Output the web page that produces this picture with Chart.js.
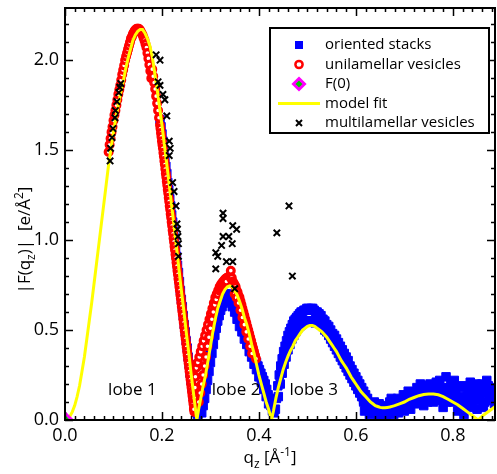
<!DOCTYPE html>
<html>
<head>
<meta charset="utf-8">
<script src="https://cdn.jsdelivr.net/npm/chart.js@4.4.1/dist/chart.umd.min.js"></script>
<style>
html, body { margin: 0; padding: 0; background: #fff; }
</style>
</head>
<body>
<canvas id="myChart" width="497" height="474"></canvas>
<script>
// model fit |F(qz)|
var fitPoints = [
  [0,0],[0.005,0.005],[0.01,0.02],[0.015,0.045],[0.02,0.08],[0.025,0.13],[0.03,0.19],[0.035,0.27],[0.04,0.35],[0.045,0.45],
  [0.05,0.55],[0.055,0.65],[0.06,0.76],[0.065,0.87],[0.07,0.98],[0.075,1.09],[0.08,1.20],[0.085,1.31],[0.09,1.42],[0.095,1.51],
  [0.10,1.60],[0.105,1.68],[0.11,1.75],[0.115,1.82],[0.12,1.88],[0.125,1.95],[0.13,2.01],[0.135,2.06],[0.14,2.11],[0.145,2.14],
  [0.15,2.16],[0.155,2.17],[0.16,2.17],[0.165,2.15],[0.17,2.12],[0.175,2.08],[0.18,2.02],[0.185,1.93],[0.19,1.84],[0.195,1.74],
  [0.20,1.64],[0.205,1.53],[0.21,1.42],[0.215,1.31],[0.22,1.19],[0.225,1.08],[0.23,0.96],[0.235,0.84],[0.24,0.72],[0.245,0.61],
  [0.25,0.49],[0.255,0.38],[0.26,0.26],[0.265,0.15],[0.27,0.04],[0.272,0.0],
  [0.275,0.05],[0.28,0.12],[0.285,0.19],[0.29,0.25],[0.295,0.33],[0.30,0.41],[0.305,0.49],[0.31,0.56],[0.315,0.62],[0.32,0.66],
  [0.325,0.70],[0.33,0.725],[0.335,0.74],[0.34,0.745],[0.345,0.74],[0.35,0.72],[0.355,0.695],[0.36,0.66],[0.365,0.62],[0.37,0.57],
  [0.375,0.53],[0.38,0.48],[0.385,0.42],[0.39,0.37],[0.395,0.31],[0.40,0.25],[0.405,0.20],[0.41,0.15],[0.415,0.10],[0.42,0.06],[0.426,0.0],
  [0.43,0.05],[0.435,0.12],[0.44,0.18],[0.445,0.23],[0.45,0.28],[0.455,0.32],[0.46,0.355],[0.465,0.385],[0.47,0.41],[0.475,0.44],
  [0.48,0.46],[0.485,0.48],[0.49,0.50],[0.495,0.51],[0.50,0.52],[0.505,0.525],[0.51,0.525],[0.515,0.52],[0.52,0.51],[0.525,0.50],
  [0.53,0.49],[0.535,0.475],[0.54,0.46],[0.545,0.44],[0.55,0.42],[0.555,0.40],[0.56,0.38],[0.565,0.355],[0.57,0.33],[0.575,0.31],
  [0.58,0.29],[0.585,0.265],[0.59,0.24],[0.595,0.22],[0.60,0.20],[0.605,0.18],[0.61,0.16],[0.615,0.145],[0.62,0.13],[0.625,0.115],
  [0.63,0.10],[0.635,0.09],[0.64,0.08],[0.645,0.075],[0.65,0.07],[0.655,0.068],[0.66,0.068],[0.665,0.07],[0.67,0.072],[0.675,0.076],
  [0.68,0.08],[0.69,0.09],[0.70,0.10],[0.71,0.115],[0.72,0.125],[0.73,0.135],[0.74,0.142],[0.75,0.145],[0.76,0.145],[0.77,0.14],
  [0.78,0.13],[0.79,0.115],[0.80,0.10],[0.81,0.085],[0.82,0.065],[0.83,0.045],[0.84,0.025],[0.852,0.0],[0.86,0.02],[0.87,0.04],
  [0.88,0.06],[0.89,0.08]
];

var orientedStacks = [
  // lobe 1, falling edge
  [0.196,1.67],[0.198,1.63],[0.200,1.59],[0.202,1.55],[0.204,1.50],[0.206,1.46],[0.208,1.41],[0.210,1.37],[0.212,1.32],[0.214,1.28],
  [0.216,1.23],[0.218,1.19],[0.220,1.14],[0.222,1.10],[0.224,1.05],[0.226,1.01],[0.228,0.96],[0.230,0.91],[0.232,0.86],[0.234,0.82],
  [0.236,0.77],[0.238,0.72],[0.240,0.67],[0.242,0.63],[0.244,0.58],[0.246,0.53],[0.248,0.49],[0.250,0.44],[0.252,0.40],[0.254,0.35],
  [0.256,0.31],[0.258,0.26],[0.260,0.22],[0.262,0.18],[0.264,0.14],[0.266,0.10],[0.268,0.07],[0.270,0.05],[0.272,0.04],[0.274,0.03],[0.276,0.04],
  // lobe 2
  [0.278,0.05],[0.281,0.10],[0.284,0.14],[0.287,0.19],[0.290,0.23],[0.293,0.28],[0.296,0.33],[0.299,0.38],[0.302,0.43],[0.305,0.48],
  [0.308,0.52],[0.311,0.56],[0.314,0.59],[0.317,0.62],[0.320,0.65],[0.323,0.67],[0.326,0.69],[0.329,0.70],[0.332,0.70],[0.335,0.70],
  [0.282,0.04],[0.285,0.08],[0.288,0.12],[0.291,0.17],[0.294,0.22],[0.297,0.27],[0.300,0.32],[0.303,0.37],[0.306,0.42],[0.309,0.47],
  [0.312,0.51],[0.315,0.55],[0.318,0.58],[0.321,0.61],[0.324,0.63],[0.327,0.65],[0.330,0.66],[0.333,0.66],
  [0.338,0.69],[0.341,0.68],[0.344,0.67],[0.347,0.65],[0.350,0.63],[0.353,0.61],[0.356,0.59],[0.359,0.57],[0.362,0.55],[0.365,0.53],
  [0.368,0.51],[0.371,0.49],[0.374,0.47],[0.377,0.45],[0.380,0.43],[0.383,0.41],[0.386,0.38],[0.389,0.36],[0.392,0.34],[0.395,0.32],
  [0.398,0.30],[0.401,0.28],[0.404,0.26],[0.407,0.24],[0.410,0.22],[0.413,0.20],[0.416,0.17],[0.419,0.14],[0.422,0.11],[0.425,0.08],
  [0.428,0.05],[0.431,0.04],[0.434,0.06],
  [0.345,0.63],[0.350,0.60],[0.355,0.56],[0.360,0.52],[0.365,0.49],[0.370,0.45],[0.375,0.42],[0.380,0.38],[0.385,0.35],[0.390,0.31],
  [0.395,0.28],[0.400,0.24],[0.405,0.21],[0.410,0.17],[0.415,0.13],[0.420,0.09],
  // lobe 3
  [0.436,0.12],[0.439,0.19],[0.442,0.25],[0.445,0.30],[0.448,0.34],[0.451,0.38],[0.454,0.41],[0.457,0.44],[0.460,0.47],[0.463,0.49],
  [0.466,0.51],[0.469,0.53],[0.472,0.55],[0.475,0.56],[0.478,0.57],[0.481,0.58],[0.484,0.59],[0.487,0.60],[0.490,0.60],[0.493,0.61],
  [0.496,0.61],[0.499,0.62],[0.502,0.62],[0.505,0.61],[0.508,0.62],[0.511,0.62],[0.514,0.61],[0.517,0.60],
  [0.440,0.13],[0.444,0.20],[0.448,0.26],[0.452,0.31],[0.456,0.35],[0.460,0.39],[0.464,0.42],[0.468,0.45],[0.472,0.47],[0.476,0.49],
  [0.480,0.51],[0.484,0.52],[0.488,0.53],[0.492,0.54],[0.496,0.55],[0.500,0.55],[0.504,0.55],[0.508,0.55],[0.512,0.55],[0.516,0.54],
  [0.520,0.60],[0.524,0.59],[0.528,0.58],[0.532,0.56],[0.536,0.55],[0.540,0.53],[0.544,0.52],[0.548,0.50],[0.552,0.48],[0.556,0.47],
  [0.560,0.45],[0.564,0.43],[0.568,0.41],[0.572,0.39],[0.576,0.37],[0.580,0.35],[0.584,0.33],[0.588,0.30],[0.592,0.28],[0.596,0.26],
  [0.600,0.24],[0.604,0.22],[0.608,0.20],[0.612,0.18],[0.616,0.16],[0.620,0.14],[0.624,0.12],
  [0.528,0.54],[0.532,0.52],[0.536,0.50],[0.540,0.49],[0.544,0.47],[0.548,0.45],[0.552,0.43],[0.556,0.41],[0.560,0.39],[0.564,0.37],
  [0.568,0.35],[0.572,0.33],[0.576,0.31],[0.580,0.29],[0.584,0.27],[0.588,0.25],[0.592,0.23],[0.596,0.21],[0.600,0.19],[0.604,0.17],
  [0.608,0.15],[0.612,0.13],[0.616,0.11],
  // noisy tail
  [0.616,0.10],[0.620,0.08],[0.626,0.06],[0.630,0.09],[0.636,0.04],[0.640,0.07],[0.646,0.02],[0.650,0.06],[0.656,0.03],[0.660,0.08],
  [0.666,0.05],[0.670,0.10],[0.676,0.06],[0.680,0.09],[0.686,0.12],[0.690,0.07],[0.696,0.11],[0.700,0.05],[0.706,0.13],[0.710,0.09],
  [0.716,0.15],[0.720,0.11],[0.726,0.18],[0.730,0.12],[0.736,0.16],[0.740,0.08],[0.746,0.19],[0.750,0.13],[0.756,0.17],[0.760,0.10],
  [0.766,0.21],[0.770,0.14],[0.776,0.18],[0.780,0.07],[0.786,0.24],[0.790,0.15],[0.796,0.20],[0.800,0.10],[0.806,0.17],[0.810,0.05],
  [0.816,0.13],[0.820,0.19],[0.826,0.08],[0.830,0.15],[0.836,0.21],[0.840,0.11],[0.846,0.17],[0.850,0.06],[0.856,0.14],[0.860,0.20],
  [0.866,0.10],[0.870,0.22],[0.876,0.13],[0.880,0.18],[0.886,0.09],
  [0.614,0.13],[0.618,0.05],[0.623,0.11],[0.628,0.03],[0.633,0.07],[0.638,0.10],[0.643,0.05],[0.648,0.09],[0.653,0.01],[0.658,0.05],
  [0.663,0.02],[0.668,0.07],[0.673,0.12],[0.678,0.03],[0.683,0.07],[0.688,0.04],[0.693,0.09],[0.698,0.14],[0.703,0.08],[0.708,0.16],
  [0.713,0.06],[0.718,0.12],[0.723,0.09],[0.728,0.14],[0.733,0.20],[0.738,0.12],[0.743,0.15],[0.748,0.10],[0.753,0.20],[0.758,0.14],
  [0.763,0.17],[0.768,0.11],[0.773,0.22],[0.778,0.12],[0.783,0.17],[0.788,0.10],[0.793,0.18],[0.798,0.13],[0.803,0.22],[0.808,0.12],
  [0.813,0.18],[0.818,0.09],[0.823,0.03],[0.828,0.12],[0.833,0.18],[0.838,0.07],[0.843,0.14],[0.848,0.20],[0.853,0.11],[0.858,0.17],
  [0.863,0.07],[0.868,0.15],[0.873,0.19],[0.878,0.11],[0.883,0.16]
];

var unilamellarVesicles = [
  // lobe 1
  [0.090,1.49],[0.092,1.53],[0.094,1.565],[0.096,1.60],[0.098,1.63],[0.100,1.665],[0.102,1.695],[0.104,1.72],[0.106,1.75],[0.108,1.78],
  [0.110,1.81],[0.112,1.835],[0.114,1.86],[0.116,1.89],[0.118,1.92],[0.120,1.945],[0.122,1.97],[0.124,2.00],[0.126,2.02],[0.128,2.04],
  [0.130,2.06],[0.132,2.08],[0.134,2.10],[0.136,2.12],[0.138,2.13],[0.140,2.145],[0.142,2.155],[0.144,2.165],[0.146,2.17],[0.148,2.175],
  [0.150,2.175],[0.152,2.175],[0.154,2.17],[0.156,2.16],[0.158,2.15],[0.160,2.14],[0.162,2.125],[0.164,2.11],[0.166,2.09],[0.168,2.07],
  [0.170,2.04],[0.172,2.01],[0.174,1.975],[0.176,1.94],[0.178,1.90],[0.180,1.95],[0.182,1.91],[0.184,1.875],[0.186,1.84],[0.188,1.80],
  [0.190,1.76],[0.192,1.72],[0.194,1.68],[0.196,1.64],[0.197,1.62],[0.198,1.595],[0.199,1.575],[0.200,1.55],[0.201,1.53],[0.202,1.51],
  [0.203,1.485],[0.204,1.465],[0.205,1.44],[0.206,1.42],[0.207,1.395],[0.208,1.37],[0.209,1.35],[0.210,1.325],[0.211,1.305],[0.212,1.28],
  [0.213,1.26],[0.214,1.235],[0.215,1.215],[0.216,1.19],[0.217,1.17],[0.218,1.145],[0.219,1.125],[0.220,1.10],[0.221,1.08],[0.222,1.055],
  [0.223,1.035],[0.224,1.01],[0.225,0.99],[0.226,0.965],[0.227,0.945],[0.228,0.92],[0.229,0.90],[0.230,0.875],[0.231,0.855],[0.232,0.83],
  [0.233,0.81],[0.234,0.785],[0.235,0.765],[0.236,0.74],[0.237,0.72],[0.238,0.695],[0.239,0.675],[0.240,0.65],[0.241,0.63],[0.242,0.605],
  [0.243,0.585],[0.244,0.56],[0.245,0.54],[0.246,0.515],[0.247,0.495],[0.248,0.47],[0.249,0.45],[0.250,0.425],[0.251,0.405],[0.252,0.38],
  [0.253,0.36],[0.254,0.335],[0.255,0.315],[0.256,0.29],[0.257,0.27],[0.258,0.245],[0.259,0.225],[0.260,0.20],[0.261,0.18],[0.262,0.155],
  [0.263,0.135],[0.264,0.11],[0.265,0.09],[0.266,0.065],[0.267,0.045],
  // lobe 2
  [0.266,0.06],[0.267,0.12],[0.268,0.18],[0.269,0.24],[0.271,0.29],[0.274,0.32],[0.277,0.35],[0.280,0.38],[0.283,0.41],[0.286,0.44],
  [0.289,0.47],[0.292,0.50],[0.295,0.53],[0.298,0.56],[0.301,0.59],[0.304,0.62],[0.307,0.65],[0.310,0.68],[0.313,0.70],[0.316,0.72],
  [0.319,0.74],[0.322,0.755],[0.325,0.765],[0.328,0.775],[0.331,0.785],[0.334,0.79],[0.337,0.795],[0.340,0.80],
  [0.276,0.10],[0.279,0.15],[0.282,0.20],[0.285,0.25],[0.288,0.30],[0.291,0.35],[0.294,0.41],[0.297,0.46],[0.300,0.51],[0.303,0.56],
  [0.306,0.60],[0.309,0.64],[0.312,0.67],[0.315,0.70],[0.318,0.72],[0.321,0.73],[0.324,0.74],[0.327,0.75],[0.330,0.76],[0.333,0.77],
  [0.342,0.79],[0.342,0.83],[0.344,0.79],
  [0.346,0.77],[0.348,0.76],[0.350,0.75],[0.352,0.74],[0.354,0.72],[0.356,0.71],[0.358,0.69],[0.360,0.68],[0.362,0.66],[0.364,0.64],
  [0.366,0.62],[0.368,0.60],[0.370,0.58],[0.372,0.56],[0.374,0.54],[0.376,0.52],[0.378,0.50],[0.380,0.48],[0.382,0.46],[0.384,0.44],
  [0.386,0.42],[0.388,0.40],[0.390,0.38],[0.392,0.36],[0.394,0.34],
  [0.350,0.70],[0.354,0.68],[0.358,0.65],[0.362,0.61],[0.366,0.57],[0.370,0.53],[0.374,0.49],[0.378,0.45],[0.382,0.41],[0.386,0.37]
];

var multilamellarVesicles = [
  [0.093,1.44],[0.094,1.51],[0.097,1.57],[0.099,1.62],[0.103,1.68],[0.104,1.72],[0.107,1.77],[0.111,1.82],[0.113,1.85],[0.115,1.87],
  [0.188,2.03],[0.196,2.00],[0.192,1.88],[0.196,1.86],[0.202,1.81],[0.206,1.78],[0.210,1.69],[0.215,1.55],[0.217,1.51],[0.215,1.47],
  [0.222,1.32],[0.225,1.27],[0.229,1.19],[0.231,1.09],[0.232,1.06],[0.233,1.02],[0.234,0.98],[0.234,0.91],
  [0.326,1.15],[0.326,1.12],[0.346,1.08],[0.354,1.06],[0.326,1.02],[0.338,1.02],[0.345,0.98],[0.323,0.97],[0.311,0.93],[0.315,0.91],
  [0.333,0.88],[0.346,0.88],[0.311,0.84],[0.350,0.73],
  [0.437,1.04],[0.462,1.19],[0.469,0.80]
];

var fZero = [[0, 0]];

var seriesNames = ['oriented stacks', 'unilamellar vesicles', 'F(0)', 'model fit', 'multilamellar vesicles'];
var lobeNames = ['lobe 1', 'lobe 2', 'lobe 3'];

var FONT = '"Open Sans", "DejaVu Sans", sans-serif';

function toXY(arr) {
  return arr.map(function (p) { return { x: p[0], y: p[1] }; });
}

// frame with inward ticks on all four sides, plus axis titles and lobe labels
var framePlugin = {
  id: 'frame',
  afterDatasetsDraw: function (chart) {
    var ctx = chart.ctx, a = chart.chartArea;
    var xs = chart.scales.x, ys = chart.scales.y;
    ctx.save();
    ctx.strokeStyle = '#000';
    ctx.lineWidth = 1.5;
    var i, v, px, len;
    for (i = 0; i <= 44; i++) {
      v = i * 0.02;
      if (v > xs.max) break;
      px = Math.round(xs.getPixelForValue(v)) + 0.5;
      len = (i % 10 === 0) ? 8 : 4;
      ctx.beginPath();
      ctx.moveTo(px, a.bottom); ctx.lineTo(px, a.bottom - len);
      ctx.moveTo(px, a.top); ctx.lineTo(px, a.top + len);
      ctx.stroke();
    }
    for (i = 0; i <= 22; i++) {
      v = i * 0.1;
      if (v > ys.max) break;
      px = Math.round(ys.getPixelForValue(v)) + 0.5;
      len = (i % 5 === 0) ? 8 : 4;
      ctx.beginPath();
      ctx.moveTo(a.left, px); ctx.lineTo(a.left + len, px);
      ctx.moveTo(a.right, px); ctx.lineTo(a.right - len, px);
      ctx.stroke();
    }
    ctx.lineWidth = 2;
    ctx.strokeRect(a.left, a.top, a.right - a.left, a.bottom - a.top);

    // lobe labels
    ctx.fillStyle = '#000';
    ctx.font = '17px ' + FONT;
    ctx.textAlign = 'center';
    ctx.textBaseline = 'middle';
    var lobeQ = [0.139, 0.353, 0.513];
    for (i = 0; i < lobeNames.length; i++) {
      ctx.fillText(lobeNames[i], xs.getPixelForValue(lobeQ[i]), ys.getPixelForValue(0.165));
    }
    ctx.restore();
  },
  afterDraw: function (chart) {
    var ctx = chart.ctx;
    ctx.save();
    ctx.fillStyle = '#000';
    ctx.textBaseline = 'alphabetic';
    // x title: q_z [Å^-1]
    drawRich(ctx, [['q', 0], ['z', 1], [' [Å', 0], ['-1', -1], [']', 0]], 270, 463, 17);
    // y title rotated
    ctx.translate(30, 240);
    ctx.rotate(-Math.PI / 2);
    drawRich(ctx, [['|F(q', 0], ['z', 1], [')|  [e/Å', 0], ['2', -1], [']', 0]], 0, 0, 17);
    ctx.restore();

    drawLegend(chart);
  }
};

// segments: [text, 0 normal | 1 subscript | -1 superscript], centred on cx
function drawRich(ctx, segs, cx, baseY, size) {
  var small = Math.round(size * 0.7);
  var total = 0, i;
  for (i = 0; i < segs.length; i++) {
    ctx.font = (segs[i][1] ? small : size) + 'px ' + FONT;
    total += ctx.measureText(segs[i][0]).width;
  }
  var x = cx - total / 2;
  ctx.textAlign = 'left';
  for (i = 0; i < segs.length; i++) {
    var s = segs[i];
    ctx.font = (s[1] ? small : size) + 'px ' + FONT;
    var dy = s[1] === 1 ? size * 0.28 : (s[1] === -1 ? -size * 0.42 : 0);
    ctx.fillText(s[0], x, baseY + dy);
    x += ctx.measureText(s[0]).width;
  }
}

function drawLegend(chart) {
  var ctx = chart.ctx;
  var box = { x: 270, y: 28, w: 219, h: 105 };
  ctx.save();
  ctx.fillStyle = '#fff';
  ctx.fillRect(box.x, box.y, box.w, box.h);
  ctx.strokeStyle = '#000';
  ctx.lineWidth = 2;
  ctx.strokeRect(box.x, box.y, box.w, box.h);
  var mx = 299, tx = 325;
  var rows = [45, 64.5, 84, 103.5, 123];
  for (var i = 0; i < seriesNames.length; i++) {
    var y = rows[i];
    ctx.save();
    if (i === 0) {
      ctx.fillStyle = '#0000ff';
      ctx.fillRect(mx - 4, y - 4, 8, 8);
    } else if (i === 1) {
      ctx.strokeStyle = '#ff0000';
      ctx.lineWidth = 2.5;
      ctx.fillStyle = '#fff';
      ctx.beginPath(); ctx.arc(mx, y, 3.6, 0, Math.PI * 2); ctx.fill(); ctx.stroke();
    } else if (i === 2) {
      ctx.fillStyle = '#00cc00';
      ctx.strokeStyle = '#ff00ff';
      ctx.lineWidth = 3;
      ctx.beginPath();
      ctx.moveTo(mx, y - 5.5); ctx.lineTo(mx + 5.5, y); ctx.lineTo(mx, y + 5.5); ctx.lineTo(mx - 5.5, y); ctx.closePath();
      ctx.fill(); ctx.stroke();
    } else if (i === 3) {
      ctx.strokeStyle = '#ffff00';
      ctx.lineWidth = 3;
      ctx.beginPath(); ctx.moveTo(278, y); ctx.lineTo(320, y); ctx.stroke();
    } else {
      ctx.strokeStyle = '#000';
      ctx.lineWidth = 2;
      ctx.beginPath();
      ctx.moveTo(mx - 3, y - 3); ctx.lineTo(mx + 3, y + 3);
      ctx.moveTo(mx + 3, y - 3); ctx.lineTo(mx - 3, y + 3);
      ctx.stroke();
    }
    ctx.restore();
    ctx.fillStyle = '#000';
    ctx.font = '15px ' + FONT;
    ctx.textAlign = 'left';
    ctx.textBaseline = 'middle';
    ctx.fillText(seriesNames[i], tx, y);
  }
  ctx.restore();
}

// keep the plot frame exactly where it is in the original figure
function noPad(s) {
  s.paddingTop = 0; s.paddingBottom = 0; s.paddingLeft = 0; s.paddingRight = 0;
}

var ctx = document.getElementById('myChart').getContext('2d');
var myChart = new Chart(ctx, {
  type: 'scatter',
  data: {
    datasets: [{
      label: seriesNames[4],
      data: toXY(multilamellarVesicles),
      pointStyle: 'crossRot',
      radius: 4.5,
      borderColor: '#000',
      borderWidth: 2,
      clip: 0,
      order: 1
    }, {
      label: seriesNames[2],
      data: toXY(fZero),
      pointStyle: 'rectRot',
      radius: 7,
      backgroundColor: '#00cc00',
      borderColor: '#ff00ff',
      borderWidth: 3,
      clip: 0,
      order: 2
    }, {
      label: seriesNames[3],
      data: toXY(fitPoints),
      showLine: true,
      pointRadius: 0,
      borderColor: '#ffff00',
      borderWidth: 3,
      tension: 0,
      fill: false,
      clip: 0,
      order: 3
    }, {
      label: seriesNames[1],
      data: toXY(unilamellarVesicles),
      pointStyle: 'circle',
      radius: 3.4,
      backgroundColor: '#fff',
      borderColor: '#ff0000',
      borderWidth: 3.2,
      clip: 0,
      order: 4
    }, {
      label: seriesNames[0],
      data: toXY(orientedStacks),
      pointStyle: 'rect',
      radius: 6,
      backgroundColor: '#0000ff',
      borderColor: '#0000ff',
      borderWidth: 1,
      clip: 0,
      order: 5
    }]
  },
  options: {
    responsive: false,
    animation: false,
    devicePixelRatio: 1,
    layout: { autoPadding: false, padding: { top: 8, right: 2, left: 0, bottom: 0 } },
    plugins: {
      legend: { display: false },
      tooltip: { enabled: false }
    },
    scales: {
      x: {
        type: 'linear',
        min: 0,
        max: 0.887,
        afterFit: function (s) { s.height = 54; noPad(s); },
        grid: { display: false, drawTicks: false },
        border: { display: false },
        ticks: {
          stepSize: 0.2,
          includeBounds: false,
          maxRotation: 0,
          padding: 5,
          color: '#000',
          font: { family: FONT, size: 18 },
          callback: function (v) { return v.toFixed(1); }
        }
      },
      y: {
        type: 'linear',
        min: 0,
        max: 2.29,
        afterFit: function (s) { s.width = 65; noPad(s); },
        grid: { display: false, drawTicks: false },
        border: { display: false },
        ticks: {
          stepSize: 0.5,
          includeBounds: false,
          padding: 6,
          color: '#000',
          font: { family: FONT, size: 18 },
          callback: function (v) { return v.toFixed(1); }
        }
      }
    }
  },
  plugins: [framePlugin]
});
</script>
</body>
</html>
